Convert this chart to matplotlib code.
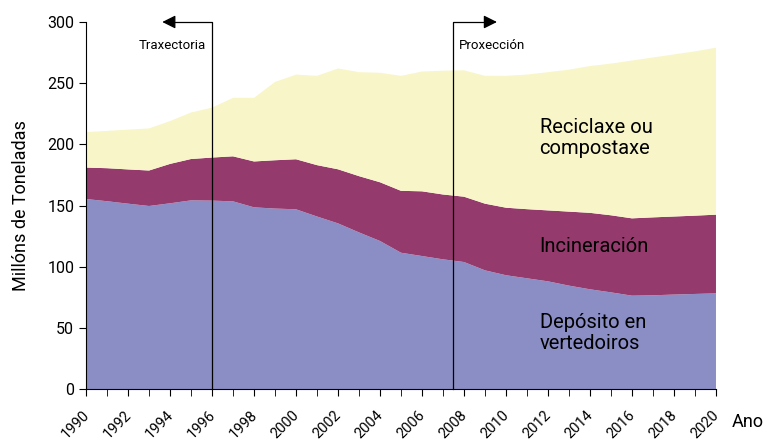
import numpy as np
import matplotlib
matplotlib.use('Agg')
import matplotlib.pyplot as plt
import matplotlib.transforms as mtransforms

plt.rcParams['font.family'] = ['Roboto', 'DejaVu Sans']

years = list(range(1990, 2021))

# Millóns de toneladas por ano
deposito = [155.3, 153.5, 151.5, 149.6, 151.8, 154.2, 154.0, 153.4, 148.5, 147.5,
            146.9, 141.0, 135.4, 128.0, 121.0, 111.4, 108.7, 106.0, 103.8, 97.0,
            93.0, 90.5, 88.0, 84.5, 81.5, 79.0, 76.3, 76.6, 77.2, 77.7, 78.2]
incineracion = [25.7, 27.0, 28.0, 29.0, 32.2, 33.8, 35.2, 36.8, 37.5, 39.5,
                40.9, 42.0, 44.2, 46.0, 48.0, 50.6, 52.9, 53.0, 53.4, 54.5,
                55.2, 56.5, 58.0, 60.5, 62.5, 63.0, 63.2, 63.7, 63.8, 64.0, 64.3]
reciclaxe = [29.0, 30.5, 32.5, 34.4, 35.0, 38.0, 40.8, 47.8, 52.0, 64.0,
             69.2, 73.0, 82.4, 85.0, 89.5, 94.0, 97.9, 101.2, 103.3, 104.5,
             107.8, 110.0, 113.0, 116.0, 120.0, 124.0, 129.0, 130.7, 132.5, 134.3, 136.5]

series_labels = ['Depósito en\nvertedoiros', 'Incineración', 'Reciclaxe ou\ncompostaxe']
colors = ['#8b8ec4', '#953a6d', '#f8f6c8']

fig = plt.figure(figsize=(7.66, 4.4), dpi=100)
ax = fig.add_axes([0.1123, 0.1159, 0.8224, 0.8341])

ax.stackplot(years, deposito, incineracion, reciclaxe, colors=colors, linewidth=0)

ax.set_xlim(1990, 2020)
ax.set_ylim(0, 300)
ax.set_yticks(range(0, 301, 50))
ax.set_xticks(range(1990, 2021, 2))
ax.set_xticks(range(1990, 2021), minor=True)
ax.set_xticklabels([str(y) for y in range(1990, 2021, 2)], rotation=45,
                   ha='right', rotation_mode='anchor', fontsize=10.5)
ax.tick_params(axis='y', direction='out', length=5, labelsize=11.5)
ax.tick_params(axis='x', which='both', direction='out', length=5)
for s in ['top', 'right']:
    ax.spines[s].set_visible(False)

# shift the rotated year labels down/left like the original
offset = mtransforms.ScaledTranslation(-4 / 100, -7 / 100, fig.dpi_scale_trans)
for lbl in ax.get_xticklabels():
    lbl.set_transform(lbl.get_transform() + offset)

ax.set_ylabel('Millóns de Toneladas', fontsize=13, labelpad=12)
ax.text(1.025, -0.089, 'Ano', transform=ax.transAxes, fontsize=13, va='center', ha='left')

# Traxectoria / Proxección markers
ax.plot([1996, 1996, 1994.0], [0, 300, 300], color='black', lw=0.9, clip_on=False)
ax.annotate('', xy=(1993.5, 300), xytext=(1994.2, 300),
            arrowprops=dict(arrowstyle='-|>', color='black', lw=0.9, mutation_scale=20),
            annotation_clip=False)
ax.text(1995.7, 281, 'Traxectoria', ha='right', va='center', fontsize=9.5)

ax.plot([2007.5, 2007.5, 2009.2], [0, 300, 300], color='black', lw=0.9, clip_on=False)
ax.annotate('', xy=(2009.7, 300), xytext=(2009.0, 300),
            arrowprops=dict(arrowstyle='-|>', color='black', lw=0.9, mutation_scale=20),
            annotation_clip=False)
ax.text(2007.75, 281, 'Proxección', ha='left', va='center', fontsize=9.5)

# series labels inside the areas
label_y = [45.5, 116.3, 205]
for lab, y in zip(series_labels, label_y):
    ax.text(2011.6, y, lab, ha='left', va='center', fontsize=14.5, linespacing=1.15)

fig.savefig('out.png', dpi=100)
